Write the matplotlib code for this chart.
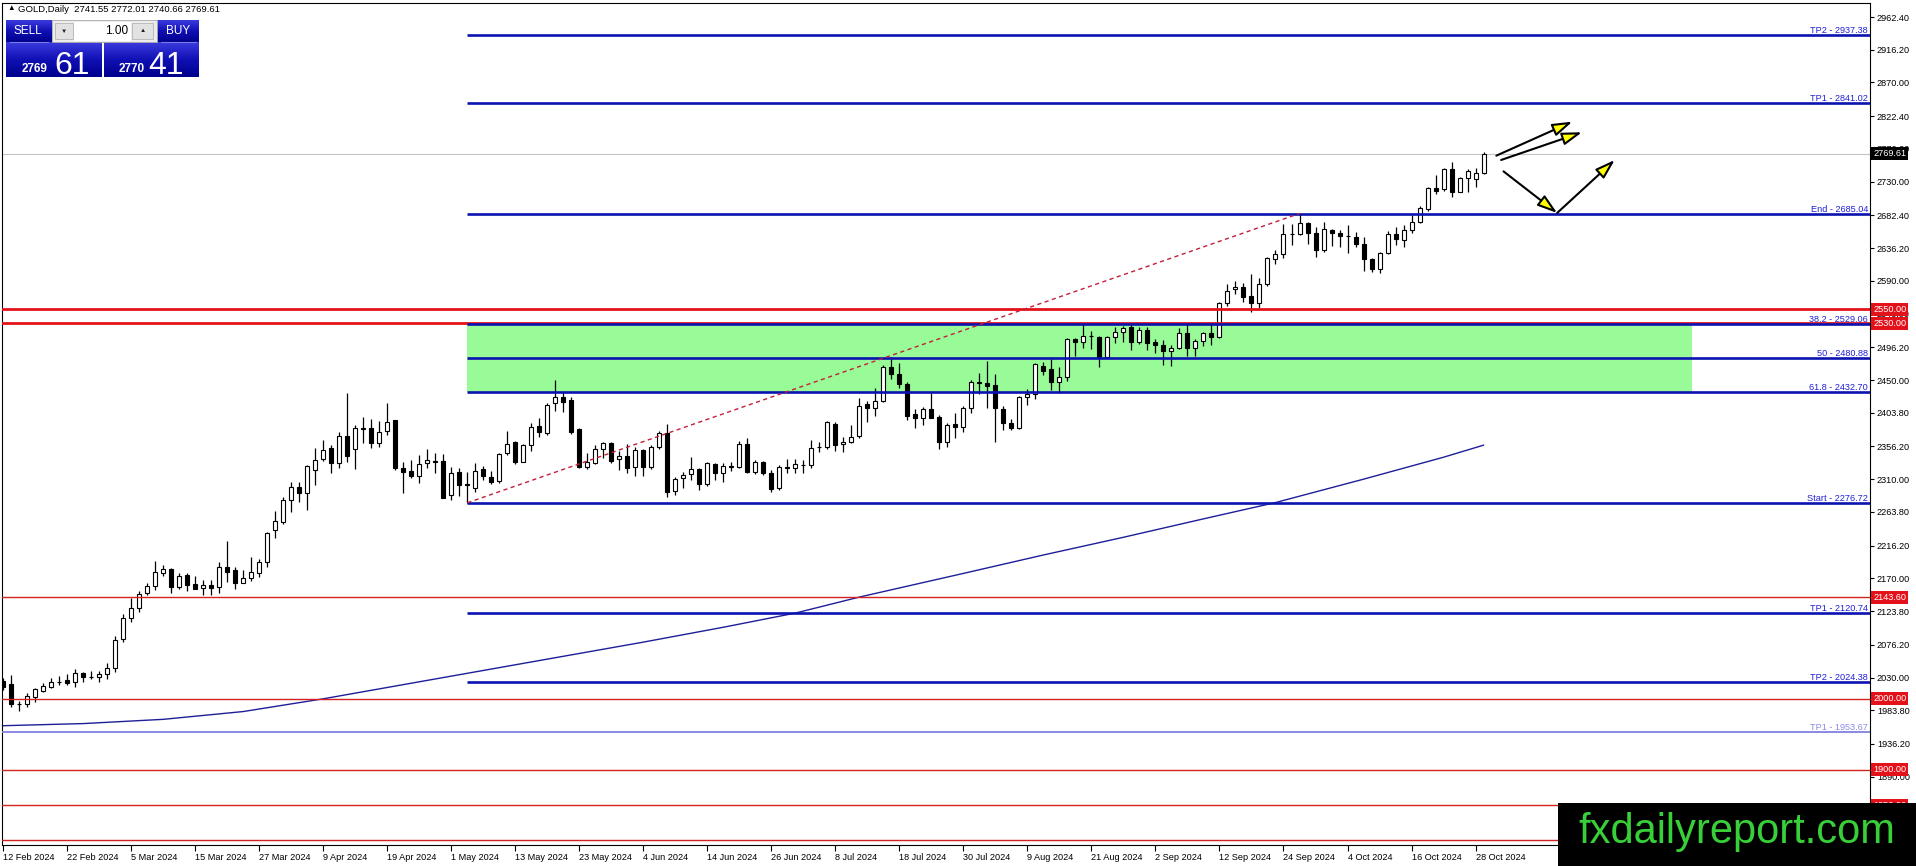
import numpy as np
import matplotlib
matplotlib.use("Agg")
import matplotlib.pyplot as plt
from matplotlib.patches import Rectangle
from matplotlib.colors import LinearSegmentedColormap

plt.rcParams['font.family'] = ['Liberation Sans', 'DejaVu Sans']

# GOLD daily bars, 12 Feb 2024 .. 29 Oct 2024 (one bar per trading day)
opens = [
    2025, 2021, 1992.6, 1992, 2003, 2011.4, 2017, 2024, 2026.5, 2023.2,
    2035.9, 2030.4, 2030.3, 2034.5, 2043, 2083.9, 2113.5, 2127.7, 2149, 2159,
    2177, 2182.7, 2158, 2174.7, 2161.5, 2157, 2160.6, 2157.3, 2186.5, 2181.8,
    2163, 2171, 2178, 2193.6, 2238.2, 2250, 2280.6, 2299.4, 2290, 2322.9,
    2338, 2353.5, 2332.3, 2371.4, 2352.1, 2381.5, 2381.8, 2360.6, 2378.5, 2393.5,
    2326.2, 2322, 2314.5, 2332.4, 2335.2, 2335.7, 2287.6, 2320.6, 2302.7, 2298,
    2323.9, 2312.6, 2307.4, 2346.5, 2363, 2334.7, 2358.2, 2385.5, 2374.7, 2417.1,
    2426.5, 2421.8, 2380.4, 2327.7, 2332.4, 2352.6, 2361.5, 2338, 2342.7, 2326.8,
    2351.2, 2326.8, 2355, 2374.7, 2293.3, 2311.2, 2316.8, 2323.9, 2302.7, 2331.4,
    2318.3, 2327.5, 2327.7, 2359.2, 2320.6, 2333.8, 2318.3, 2298, 2326.5, 2326.3,
    2330.2, 2330, 2355.9, 2355.9, 2387.9, 2359.7, 2363, 2371, 2415.7, 2410,
    2420.8, 2467.9, 2458, 2443.9, 2401.5, 2395.9, 2408.6, 2397.3, 2362.9, 2387.9,
    2383.2, 2410, 2446.2, 2445.3, 2442.9, 2408.6, 2389.7, 2381.8, 2426.5, 2429.7,
    2470.2, 2465.5, 2446.7, 2454.7, 2507.8, 2503.1, 2512.4, 2511.1, 2482.9, 2510.2,
    2517.3, 2524.3, 2503.1, 2520.5, 2504.1, 2499.4, 2491.4, 2494.7, 2515.8, 2495.6,
    2505.5, 2516.8, 2510.2, 2558.2, 2577.9, 2580.8, 2568.5, 2558.2, 2585, 2620.3,
    2627.4, 2655.8, 2655.6, 2671.1, 2657, 2633.5, 2661.8, 2657, 2653.8, 2651.4,
    2642, 2620.4, 2606.2, 2628.8, 2655.6, 2647.6, 2661.8, 2672.6, 2691, 2720.6,
    2719.2, 2747.4, 2714.9, 2734.7, 2733.3, 2741.55,
]
highs = [
    2029, 2033.6, 1997, 2007.7, 2015.7, 2021.8, 2030, 2032, 2034.5, 2041.6,
    2037.3, 2039, 2039.2, 2050, 2088.6, 2119.2, 2141.8, 2152, 2164, 2194.5,
    2189, 2185, 2178, 2177, 2173, 2167.6, 2167.6, 2193.6, 2222.7, 2186.5,
    2181.8, 2200.6, 2197.8, 2235.4, 2264.6, 2285.3, 2306.5, 2306, 2330, 2353.5,
    2365.3, 2358.2, 2377, 2431.2, 2386.5, 2397.3, 2394.5, 2392.6, 2417, 2394,
    2333.8, 2337, 2344, 2352.6, 2347.4, 2345, 2327.7, 2326.3, 2320.6, 2332.4,
    2329.1, 2321.5, 2347.4, 2378, 2363.9, 2359.2, 2388.8, 2395.9, 2417.1, 2450,
    2432.6, 2426.5, 2381.8, 2346.5, 2358.2, 2363, 2363, 2349.8, 2359.2, 2355.9,
    2352.6, 2358.2, 2378, 2387.9, 2313.5, 2320.6, 2340.8, 2325.3, 2334.7, 2333.3,
    2332.4, 2333.8, 2364.4, 2367.7, 2337.1, 2335.7, 2323, 2330, 2338.5, 2338.5,
    2337.1, 2365.3, 2362, 2392.1, 2390.2, 2370, 2386.5, 2425.1, 2420.4, 2438.2,
    2471.2, 2482.9, 2473.5, 2446.7, 2409, 2412.4, 2431.1, 2400.6, 2389.7, 2402.9,
    2413.7, 2450, 2460.3, 2476.8, 2458.4, 2413.8, 2394.9, 2427.4, 2436.8, 2473.5,
    2475.9, 2479.6, 2468.8, 2509.7, 2509.7, 2528.5, 2519.1, 2512.5, 2512, 2525.2,
    2526.7, 2528.5, 2525.2, 2525.2, 2507.8, 2506.4, 2499.4, 2522.9, 2528.5, 2507.4,
    2518.2, 2528.5, 2560.5, 2585, 2589.7, 2586.4, 2599.6, 2593.5, 2624.1, 2633.4,
    2669.7, 2669.7, 2685.04, 2672.5, 2665.5, 2673.5, 2663.2, 2661.8, 2668.8, 2658.5,
    2651.4, 2621.8, 2631.2, 2660.4, 2665.5, 2668.8, 2682.9, 2695.6, 2722.9, 2739.4,
    2748.8, 2757.3, 2737, 2747.4, 2748.8, 2772.01,
]
lows = [
    2012, 1989, 1983, 1989, 1995, 2010, 2014.7, 2019.4, 2019.4, 2016.2,
    2024, 2027.9, 2024, 2027.4, 2038.3, 2079.7, 2108.8, 2123, 2146, 2153.5,
    2174, 2150, 2154.5, 2152, 2154.5, 2146, 2146, 2148.8, 2165.3, 2155.4,
    2162.9, 2166.3, 2172.4, 2186.5, 2227.4, 2246.2, 2264.1, 2278.2, 2266.5, 2301.8,
    2336.1, 2318.2, 2325.3, 2334.7, 2323.9, 2361.5, 2353.5, 2355.9, 2372.3, 2323,
    2290, 2311.2, 2304.1, 2325.3, 2319.2, 2283, 2280.6, 2286.7, 2276.72, 2292.4,
    2308.8, 2302.7, 2305.1, 2344.1, 2331, 2333.8, 2349.8, 2370, 2372.4, 2406.7,
    2405.3, 2373.3, 2326.3, 2324.4, 2331, 2339.4, 2332.4, 2323, 2318.3, 2314.5,
    2314.5, 2324.4, 2352.6, 2285.3, 2287.7, 2297, 2308.8, 2294.7, 2300.8, 2308.8,
    2305.5, 2321.6, 2326.3, 2318.3, 2316.8, 2315.9, 2292.4, 2294.7, 2318.3, 2318.3,
    2318.3, 2326.3, 2348.8, 2352.6, 2349.8, 2348.8, 2360.6, 2367.7, 2390.2, 2399.6,
    2418.5, 2451.4, 2438.2, 2393.5, 2382.7, 2386.5, 2395.9, 2352.6, 2355.9, 2368.6,
    2376.1, 2402.9, 2429.8, 2410, 2362.9, 2379.4, 2379.4, 2380.4, 2414.7, 2422.7,
    2457, 2435.9, 2431.1, 2449, 2484.3, 2495.6, 2493.3, 2468.8, 2481.5, 2502.7,
    2503.1, 2492.3, 2500.3, 2492.3, 2487.6, 2471.1, 2469.7, 2493.3, 2484.3, 2484.3,
    2498.4, 2499.4, 2508.8, 2554.4, 2572, 2559.6, 2545.5, 2551.1, 2583.1, 2613.2,
    2621.7, 2640.5, 2654.6, 2641.5, 2624.1, 2631.2, 2639.2, 2638.2, 2629.8, 2637.3,
    2603.9, 2603, 2601.5, 2627.9, 2640.6, 2637.3, 2657, 2671.2, 2689.1, 2712.6,
    2717.3, 2707.9, 2714.9, 2715.9, 2722.9, 2740.66,
]
closes = [
    2016, 1992, 1993, 2004, 2013.8, 2018, 2023.2, 2024.2, 2022.7, 2035.9,
    2030.3, 2031.2, 2035, 2043, 2083, 2113.5, 2127.7, 2147.4, 2159.2, 2178.5,
    2183, 2158.3, 2173, 2160.6, 2155.4, 2160.6, 2156.8, 2186, 2179.4, 2163.9,
    2171, 2179.4, 2193.6, 2233.5, 2250.9, 2280.1, 2299.4, 2290, 2328.6, 2337,
    2351.1, 2333.3, 2370.9, 2343.2, 2381.8, 2382.2, 2360.6, 2377, 2391.2, 2326.2,
    2320.6, 2315, 2330.9, 2337.1, 2334.7, 2283.9, 2318.3, 2301.8, 2302.3, 2322,
    2314.5, 2306.5, 2345.5, 2359.2, 2334.7, 2358.2, 2384.1, 2376.1, 2414.7, 2426.5,
    2419.4, 2376.1, 2327.7, 2333.8, 2352.1, 2360.6, 2335.7, 2342.7, 2326.3, 2351.2,
    2326.8, 2355, 2374.7, 2292.4, 2309.8, 2315.9, 2323.9, 2302.7, 2333.3, 2318.3,
    2328.6, 2328, 2359.2, 2320.6, 2333.8, 2318.3, 2296.1, 2326.7, 2326.2, 2331,
    2330, 2354.5, 2356.1, 2390.2, 2358.2, 2363, 2370, 2413.8, 2410, 2420.8,
    2467.9, 2458, 2443.9, 2399.6, 2395.9, 2408.6, 2396.8, 2362.9, 2386.5, 2383.2,
    2410, 2446.7, 2446.5, 2442, 2410, 2389.7, 2381.8, 2426.5, 2429.7, 2472,
    2463.1, 2446.7, 2454.7, 2507.8, 2503.1, 2512.5, 2512.6, 2482.9, 2511.1, 2517.3,
    2522.9, 2503.1, 2520.5, 2501.7, 2499.4, 2490.9, 2494.7, 2515.8, 2495.6, 2505.5,
    2516.8, 2510.2, 2558.2, 2576.1, 2580.8, 2567.6, 2558.2, 2585, 2621.7, 2627.4,
    2655.6, 2656.2, 2671.1, 2657, 2633.5, 2662.7, 2657, 2653.8, 2653.6, 2642,
    2620.4, 2606.2, 2628.8, 2655.6, 2648.6, 2661.8, 2672.6, 2692.3, 2720.6, 2716.8,
    2747.4, 2714.9, 2734.7, 2745.5, 2741.7, 2769.61,
]

# time axis labels, one every 8 bars
date_labels = [
    "12 Feb 2024", "22 Feb 2024", "5 Mar 2024", "15 Mar 2024", "27 Mar 2024",
    "9 Apr 2024", "19 Apr 2024", "1 May 2024", "13 May 2024", "23 May 2024",
    "4 Jun 2024", "14 Jun 2024", "26 Jun 2024", "8 Jul 2024", "18 Jul 2024",
    "30 Jul 2024", "9 Aug 2024", "21 Aug 2024", "2 Sep 2024", "12 Sep 2024",
    "24 Sep 2024", "4 Oct 2024", "16 Oct 2024", "28 Oct 2024",
]

price_ticks = [
    2962.40, 2916.20, 2870.00, 2822.40, 2776.20, 2730.00, 2682.40, 2636.20,
    2590.00, 2543.80, 2496.20, 2450.00, 2403.80, 2356.20, 2310.00, 2263.80,
    2216.20, 2170.00, 2123.80, 2076.20, 2030.00, 1983.80, 1936.20, 1890.00,
    1843.80,
]

# horizontal support / resistance levels (red)
red_levels = [2550.00, 2530.00, 2143.60, 2000.00, 1900.00, 1850.00, 1800.00]

# fibo expansion levels between start bar and end bar
fib_names = ["TP2", "TP1", "End", "38.2", "50", "61.8", "Start", "TP1", "TP2"]
fib_values = [2937.38, 2841.02, 2685.04, 2529.06, 2480.88, 2432.70, 2276.72, 2120.74, 2024.38]
old_tp_value = 1953.67
fib_start_bar = 58
fib_end_bar = 162
zone_end_bar = 211

bid_price = 2769.61

# moving average, read at a few bars
ma_bars = [0, 10, 20, 30, 40, 50, 60, 70, 80, 90, 99, 107, 120, 130, 140, 150, 159, 170, 180, 185]
ma_values = [1962, 1965, 1971, 1982, 2000, 2020, 2040, 2060, 2080, 2101, 2121, 2143.6,
             2177, 2203, 2228, 2254, 2277, 2310, 2341, 2358]

# hand drawn arrows (bar, price) -> (bar, price)
arrows = [
    ((186.6, 2766.7), (196.1, 2814.7)),
    ((187.2, 2760.6), (197.3, 2799.7)),
    ((187.5, 2744.5), (194.2, 2685.8)),
    ((194.2, 2685.8), (201.4, 2760.6)),
]

W, H = 1916, 866
FS = 6.6
fig = plt.figure(figsize=(W / 100, H / 100), dpi=100)
ax = fig.add_axes([2 / W, 21 / H, 1868 / W, 842 / H])

n = len(closes)
xs = np.arange(n)
x_right = 233.3
ax.set_xlim(-0.16, x_right)
ax.set_ylim(1793.6, 2982.2)

# zone behind candles
ax.add_patch(Rectangle((fib_start_bar, fib_values[5]), zone_end_bar - fib_start_bar,
                       fib_values[3] - fib_values[5], facecolor='#98fb98', edgecolor='none', zorder=1))

# bid line and MA
ax.axhline(bid_price, color='#c4c4c4', lw=0.8, zorder=1.5)
ax.plot(ma_bars, ma_values, color='#1e1e98', lw=1.0, zorder=2)

# candles
ax.vlines(xs, lows, highs, color='black', lw=0.9, zorder=3)
for i in range(n):
    o, c = opens[i], closes[i]
    bull = c >= o
    ax.add_patch(Rectangle((i - 0.25, min(o, c)), 0.5, max(abs(c - o), 0.01),
                           facecolor='white' if bull else 'black', edgecolor='black',
                           lw=0.8, zorder=4))

# red levels
for v in red_levels:
    thick = v in (2550.00, 2530.00)
    ax.axhline(v, color='#e3121a' if thick else '#d42222', lw=2.0 if thick else 1.0, zorder=5)

# fibo lines + trend
ax.hlines(fib_values, fib_start_bar, x_right, color='#0a12b0', lw=1.9, zorder=5)
ax.axhline(old_tp_value, color='#8080e0', lw=1.3, zorder=5)
ax.plot([fib_start_bar, fib_end_bar], [lows[fib_start_bar], highs[fib_end_bar]],
        color='#c41e3a', lw=1.0, ls=(0, (3, 2.5)), zorder=5)

ytr = ax.get_yaxis_transform()
for name, v in zip(fib_names, fib_values):
    ax.text(1 - 2 / 1868, v, f"{name} - {v:.2f}", transform=ytr, ha='right', va='bottom',
            fontsize=FS, color='#2020d8', zorder=6)
ax.text(1 - 2 / 1868, old_tp_value, f"TP1 - {old_tp_value:.2f}", transform=ytr, ha='right',
        va='bottom', fontsize=FS, color='#8c8ce6', zorder=6)

# arrows
for (x0, y0), (x1, y1) in arrows:
    ax.annotate('', xy=(x1, y1), xytext=(x0, y0), zorder=7,
                arrowprops=dict(arrowstyle='-|>,head_length=1.0,head_width=0.32',
                                mutation_scale=12, fc='#ffff00', ec='black', lw=1.5,
                                shrinkA=0, shrinkB=0))

# axes styling
for s in ax.spines.values():
    s.set_color('black')
    s.set_linewidth(0.8)
ax.yaxis.tick_right()
ax.set_yticks(price_ticks)
ax.set_yticklabels([f"{v:.2f}" for v in price_ticks])
ax.tick_params(axis='y', length=3, width=0.8, pad=2, labelsize=FS, direction='out')
ax.set_xticks(np.arange(0, n, 8)[:len(date_labels)])
ax.set_xticklabels(date_labels)
ax.tick_params(axis='x', length=4, width=0.8, pad=1.5, labelsize=FS, direction='out')
for t in ax.get_xticklabels():
    t.set_ha('left')

# price labels on the axis
for v in red_levels[:-1]:
    ax.text(1 + 3 / 1868, v, f"{v:.2f}", transform=ytr, ha='left', va='center', fontsize=FS,
            color='white', zorder=8, clip_on=False,
            bbox=dict(boxstyle='square,pad=0.22', fc='#e3121a', ec='none'))
ax.text(1 + 3 / 1868, bid_price, f"{bid_price:.2f}", transform=ytr, ha='left', va='center',
        fontsize=FS, color='white', zorder=8, clip_on=False,
        bbox=dict(boxstyle='square,pad=0.22', fc='black', ec='none'))

# ---- overlay in pixel coordinates: trade panel, header, watermark ----
ui = fig.add_axes([0, 0, 1, 1], zorder=20)
ui.set_axis_off()
blue_grad = LinearSegmentedColormap.from_list('mt4blue', ['#3a3ade', '#1010b4', '#00008e'])


def blue_box(x0, y0, x1, y1):
    grad = np.linspace(0, 1, 40).reshape(-1, 1)
    ui.imshow(grad, cmap=blue_grad, extent=(x0, x1, y1, y0), aspect='auto',
              interpolation='bilinear', zorder=21)


ui.text(7, 9, "▲", fontsize=5.5, va='center', ha='left', color='black')
ui.text(18, 9, "GOLD,Daily  2741.55 2772.01 2740.66 2769.61", fontsize=6.8,
        va='center', ha='left', color='black')

blue_box(6, 20, 52, 42)
blue_box(157, 20, 199, 42)
blue_box(6, 42, 102, 77)
blue_box(104, 42, 199, 77)
ui.text(28, 31, "SELL", color='white', fontsize=8.5, ha='center', va='center', zorder=22)
ui.text(178, 31, "BUY", color='white', fontsize=8.5, ha='center', va='center', zorder=22)
ui.plot([10, 48], [41.5, 41.5], color='#7a7ae8', lw=0.8, zorder=22)
ui.plot([161, 196], [41.5, 41.5], color='#7a7ae8', lw=0.8, zorder=22)

ui.add_patch(Rectangle((52, 20), 105, 22, facecolor='#ececec', edgecolor='#a8a8a8', lw=0.6, zorder=21))
ui.add_patch(Rectangle((55, 23), 18, 16, facecolor='#e2e2e2', edgecolor='#b4b4b4', lw=0.6, zorder=22))
ui.add_patch(Rectangle((74, 22), 57, 19, facecolor='white', edgecolor='none', zorder=22))
ui.add_patch(Rectangle((132, 23), 21, 16, facecolor='#e2e2e2', edgecolor='#b4b4b4', lw=0.6, zorder=22))
ui.text(64, 31, "▼", fontsize=4.5, ha='center', va='center', color='#202020', zorder=23)
ui.text(142.5, 31, "▲", fontsize=4.5, ha='center', va='center', color='#202020', zorder=23)
ui.text(128, 31, "1.00", fontsize=8.5, ha='right', va='center', color='black', zorder=23)

ui.text(22, 72, "2769", color='white', fontsize=8.5, fontweight='bold', ha='left',
        va='baseline', zorder=22)
ui.text(54, 74, "61", color='white', fontsize=23, ha='left', va='baseline', zorder=22)
ui.text(119, 72, "2770", color='white', fontsize=8.5, fontweight='bold', ha='left',
        va='baseline', zorder=22)
ui.text(148, 74, "41", color='white', fontsize=23, ha='left', va='baseline', zorder=22)

ui.add_patch(Rectangle((1558, 803), W - 1558, H - 803, facecolor='black', edgecolor='none', zorder=24))
ui.text(1737, 843, "fxdailyreport.com", color='#38d038', fontsize=30, ha='center',
        va='baseline', zorder=25)

ui.set_xlim(0, W)
ui.set_ylim(H, 0)

fig.savefig("out.png", dpi=100, facecolor='white')
